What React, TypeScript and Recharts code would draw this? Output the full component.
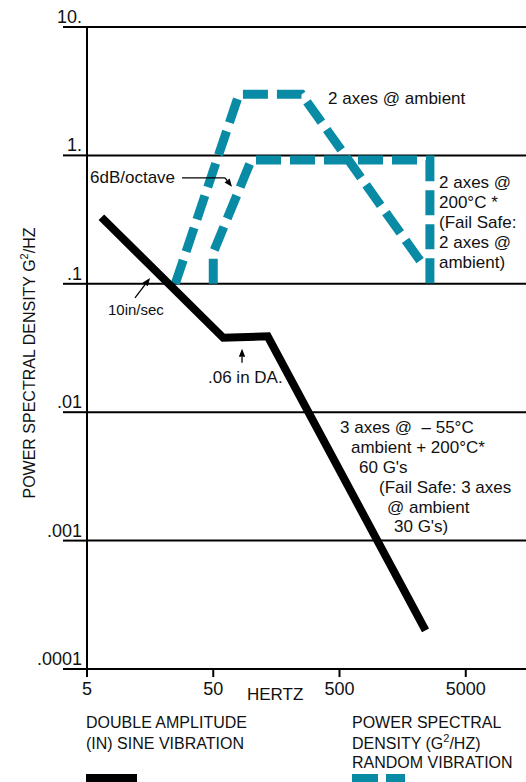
import React from "react";
import { LineChart, Line, XAxis, YAxis, CartesianGrid, ReferenceLine } from "recharts";

// frequency axis and PSD axis ticks
const xTicks = [5, 50, 500, 5000];
const yTicks = [0.0001, 0.001, 0.01, 0.1, 1, 10];
const yTickLabels = [".0001", ".001", ".01", ".1", "1.", "10."];

// sine vibration (double amplitude) profile
const sineHz = [6.5, 60, 135, 2400];
const sineLevel = [0.33, 0.038, 0.039, 0.0002];

// random vibration, 2 axes @ ambient
const ambientHz = [25, 80, 250, 2300];
const ambientPsd = [0.1, 3, 3, 0.14];

// random vibration, 2 axes @ 200°C
const hotHz = [50, 50, 100, 2600, 2600];
const hotPsd = [0.1, 0.175, 0.92, 0.92, 0.1];

// annotation arrows (data coords)
const octaveArrow = [
  { x: 28.3, y: 0.668 },
  { x: 62, y: 0.668 },
  { x: 70.4, y: 0.569 },
];
const velocityArrow = [
  { x: 12, y: 0.0778 },
  { x: 15.8, y: 0.111 },
];
const daArrow = [
  { x: 84.5, y: 0.0243 },
  { x: 84.5, y: 0.0312 },
];

const TEAL = "#0a8ba5";
const FONT = "'Liberation Sans', Arial, Helvetica, sans-serif";

const toRows = (xs: number[], ys: number[]) => xs.map((hz, i) => ({ hz, v: ys[i] }));

const sineData = toRows(sineHz, sineLevel);
const ambientData = toRows(ambientHz, ambientPsd);
const hotData = toRows(hotHz, hotPsd);

const ArrowShape = (p: any) => {
  const { x1, y1, x2, y2 } = p;
  const ang = Math.atan2(y2 - y1, x2 - x1);
  const len = 8;
  const half = 3.2;
  const bx = x2 - len * Math.cos(ang);
  const by = y2 - len * Math.sin(ang);
  const nx = -Math.sin(ang) * half;
  const ny = Math.cos(ang) * half;
  return (
    <g>
      <line x1={x1} y1={y1} x2={bx} y2={by} stroke="#000" strokeWidth={1.3} />
      <polygon points={`${x2},${y2} ${bx + nx},${by + ny} ${bx - nx},${by - ny}`} fill="#000" />
    </g>
  );
};

const YTick = (props: any) => {
  const { x, y, payload } = props;
  const idx = yTicks.indexOf(payload.value);
  return (
    <text x={x + 21} y={y - 4} textAnchor="end" fontSize={18} fontFamily={FONT} fill="#111">
      {yTickLabels[idx]}
    </text>
  );
};

const XTick = (props: any) => {
  const { x, y, payload } = props;
  return (
    <text x={x} y={y + 16} textAnchor="middle" fontSize={18} fontFamily={FONT} fill="#111">
      {payload.value}
    </text>
  );
};

export default function App() {
  const txt = { fontFamily: FONT, fill: "#111" };
  return (
    <div style={{ position: "absolute", left: 0, top: 0, width: 526, height: 782, background: "#fff" }}>
      <LineChart width={526} height={782} margin={{ top: 27, right: 0, left: 0, bottom: 83 }}>
        <CartesianGrid vertical={false} stroke="#000" strokeWidth={2} />
        <XAxis
          type="number"
          dataKey="hz"
          scale="log"
          domain={[5, 15000]}
          ticks={xTicks}
          allowDataOverflow
          height={30}
          tickSize={8}
          axisLine={{ stroke: "#000", strokeWidth: 2 }}
          tickLine={{ stroke: "#000", strokeWidth: 2 }}
          tick={XTick}
        />
        <YAxis
          type="number"
          dataKey="v"
          scale="log"
          domain={[0.0001, 10]}
          ticks={yTicks}
          allowDataOverflow
          width={87}
          tickSize={24}
          axisLine={{ stroke: "#000", strokeWidth: 2 }}
          tickLine={{ stroke: "#000", strokeWidth: 2 }}
          tick={YTick}
        />
        <Line
          data={ambientData}
          dataKey="v"
          type="linear"
          stroke={TEAL}
          strokeWidth={9}
          strokeDasharray="25 9"
          strokeLinejoin="miter"
          dot={false}
          isAnimationActive={false}
        />
        <Line
          data={hotData}
          dataKey="v"
          type="linear"
          stroke={TEAL}
          strokeWidth={9}
          strokeDasharray="25 9"
          strokeLinejoin="miter"
          dot={false}
          isAnimationActive={false}
        />
        <Line
          data={sineData}
          dataKey="v"
          type="linear"
          stroke="#000"
          strokeWidth={8}
          strokeLinejoin="miter"
          dot={false}
          isAnimationActive={false}
        />
        <ReferenceLine segment={[octaveArrow[0], octaveArrow[1]]} stroke="#000" strokeWidth={1.3} />
        <ReferenceLine segment={[octaveArrow[1], octaveArrow[2]]} shape={ArrowShape} />
        <ReferenceLine segment={[velocityArrow[0], velocityArrow[1]]} shape={ArrowShape} />
        <ReferenceLine segment={[daArrow[0], daArrow[1]]} shape={ArrowShape} />
      </LineChart>

      <svg width={526} height={782} style={{ position: "absolute", left: 0, top: 0, pointerEvents: "none" }}>
        <g {...txt} fontSize={17}>
          <text x={35} y={363} fontSize={16} textAnchor="middle" transform="rotate(-90 35 363)">
            POWER SPECTRAL DENSITY G<tspan fontSize={11} dy={-7}>2</tspan>
            <tspan dy={7}>/HZ</tspan>
          </text>
          <text x={247} y={700} fontSize={17}>HERTZ</text>

          <text x={90} y={183}>6dB/octave</text>
          <text x={108} y={315} fontSize={15}>10in/sec</text>
          <text x={208} y={383}>.06 in DA.</text>
          <text x={328} y={104}>2 axes @ ambient</text>

          <text x={439} y={188}>2 axes @</text>
          <text x={439} y={208}>200°C *</text>
          <text x={439} y={228}>(Fail Safe:</text>
          <text x={439} y={248}>2 axes @</text>
          <text x={439} y={268}>ambient)</text>

          <text x={340} y={433}>3 axes @{"\u00a0\u00a0"}– 55°C</text>
          <text x={351} y={453}>ambient + 200°C*</text>
          <text x={359} y={473}>60 G's</text>
          <text x={379} y={493}>(Fail Safe: 3 axes</text>
          <text x={387} y={513}>@ ambient</text>
          <text x={394} y={532}>30 G's)</text>

          <text x={86} y={728} fontSize={16}>DOUBLE AMPLITUDE</text>
          <text x={86} y={749} fontSize={16}>(IN) SINE VIBRATION</text>
          <rect x={86} y={774} width={51} height={10} fill="#000" />

          <text x={352} y={728} fontSize={16}>POWER SPECTRAL</text>
          <text x={352} y={749} fontSize={16}>
            DENSITY (G<tspan fontSize={11} dy={-7}>2</tspan>
            <tspan dy={7}>/HZ)</tspan>
          </text>
          <text x={352} y={768} fontSize={16}>RANDOM VIBRATION</text>
          <rect x={352} y={774} width={26} height={10} fill={TEAL} />
          <rect x={386} y={774} width={19} height={10} fill={TEAL} />
        </g>
      </svg>
    </div>
  );
}
